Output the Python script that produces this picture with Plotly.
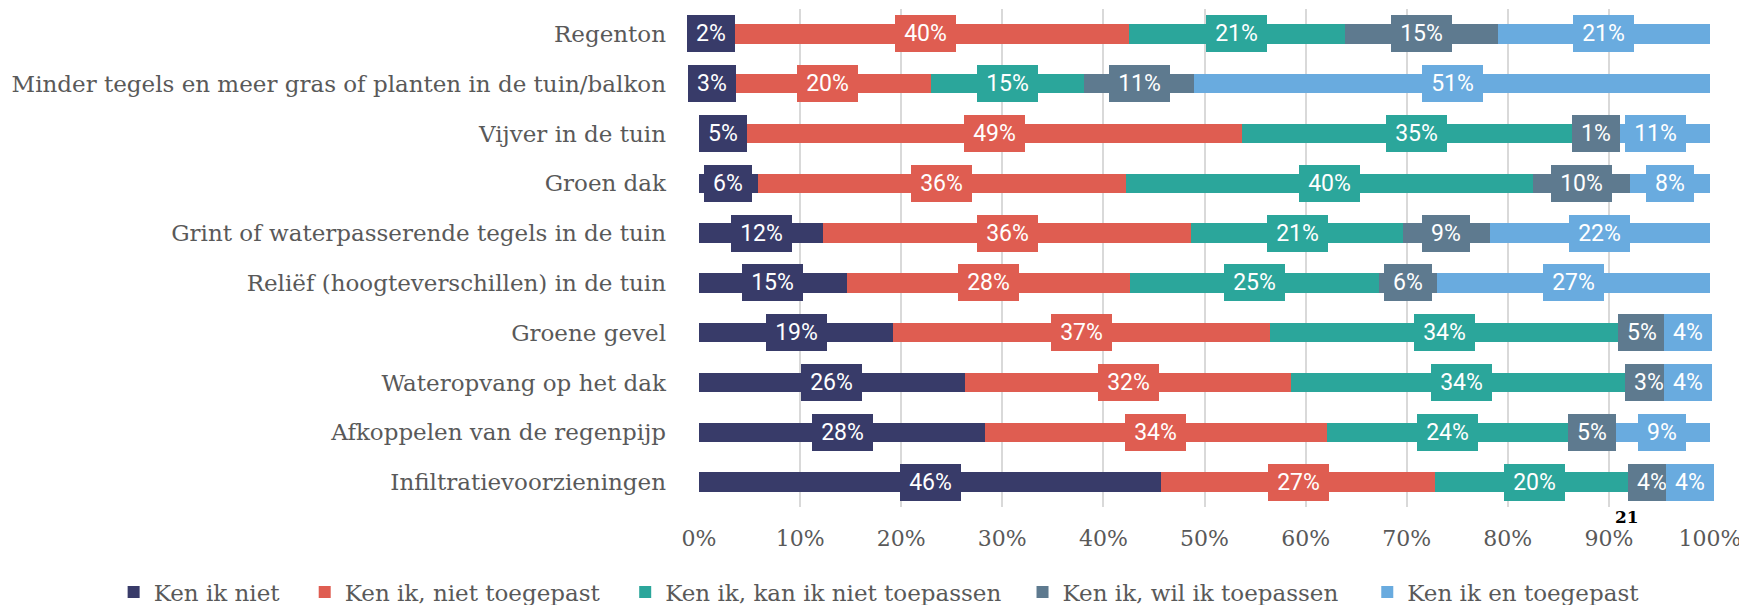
import plotly.graph_objects as go

categories = [
    "Regenton",
    "Minder tegels en meer gras of planten in de tuin/balkon",
    "Vijver in de tuin",
    "Groen dak",
    "Grint of waterpasserende tegels in de tuin",
    "Reliëf (hoogteverschillen) in de tuin",
    "Groene gevel",
    "Wateropvang op het dak",
    "Afkoppelen van de regenpijp",
    "Infiltratievoorzieningen",
]

series_names = [
    "Ken ik niet",
    "Ken ik, niet toegepast",
    "Ken ik, kan ik niet toepassen",
    "Ken ik, wil ik toepassen",
    "Ken ik en toegepast",
]

ken_ik_niet = [2.4, 2.6, 4.7, 5.8, 12.3, 14.6, 19.2, 26.3, 28.3, 45.7]
niet_toegepast = [40.1, 20.3, 49.0, 36.4, 36.4, 28.0, 37.3, 32.3, 33.8, 27.1]
kan_niet_toepassen = [21.4, 15.2, 34.6, 40.3, 20.9, 24.7, 34.4, 33.7, 23.9, 19.6]
wil_toepassen = [15.1, 10.9, 0.9, 9.6, 8.6, 5.7, 4.7, 3.4, 4.6, 3.7]
toegepast = [21.0, 51.0, 10.8, 7.9, 21.8, 27.0, 4.4, 4.3, 9.4, 3.9]

x_ticks = [0, 10, 20, 30, 40, 50, 60, 70, 80, 90, 100]
x_tick_labels = ["0%", "10%", "20%", "30%", "40%", "50%", "60%", "70%", "80%", "90%", "100%"]

colors = ["#383B69", "#DF5D51", "#2BA69B", "#5E7A8F", "#69ABDF"]
series_values = [ken_ik_niet, niet_toegepast, kan_niet_toepassen, wil_toepassen, toegepast]

# horizontal position (paper units) of each legend entry
legend_x = [-0.579, -0.390, -0.073, 0.320, 0.661]

SERIF = "DejaVu Serif, Liberation Serif, serif"
LABEL_FONT = "Roboto, Liberation Sans, sans-serif"
GRAY = "#595959"

fig = go.Figure()
legend_ids = ["legend"] + [f"legend{k}" for k in range(2, len(series_names) + 1)]
for name, vals, col, lid in zip(series_names, series_values, colors, legend_ids):
    fig.add_trace(go.Bar(
        y=categories, x=vals, name=name, orientation="h",
        marker=dict(color=col, line=dict(width=0)),
        hoverinfo="skip", legend=lid,
    ))

# data labels in coloured boxes, centred on each segment
annotations = []
for i, cat in enumerate(categories):
    start = 0.0
    for vals, col in zip(series_values, colors):
        v = vals[i]
        txt = f"{v:.0f}%"
        annotations.append(dict(
            x=start + v / 2, y=cat, xref="x", yref="y",
            text=txt, showarrow=False,
            font=dict(family=LABEL_FONT, size=23, color="white"),
            bgcolor=col, borderpad=0, borderwidth=0,
            width=48 if len(txt) <= 2 else 61, height=37,
            align="center", valign="middle",
        ))
        start += v

annotations.append(dict(
    x=0.918, y=-0.02, xref="paper", yref="paper",
    xanchor="center", yanchor="middle",
    text="<b>21</b>", showarrow=False,
    font=dict(family=SERIF, size=17, color="black"),
))

legend_common = dict(
    orientation="h", xanchor="left", y=-0.171, yanchor="middle",
    bgcolor="rgba(0,0,0,0)",
    font=dict(family=SERIF, size=23, color=GRAY),
    itemwidth=30,
)
layout_legends = {}
for lid, lx in zip(legend_ids, legend_x):
    layout_legends[lid] = dict(legend_common, x=lx)

fig.update_layout(
    barmode="stack",
    bargap=0.61,
    width=1739, height=597,
    margin=dict(l=691, r=37, t=1, b=98, autoexpand=False),
    plot_bgcolor="white", paper_bgcolor="white",
    showlegend=True,
    annotations=annotations,
    xaxis=dict(
        range=[0, 100], tickvals=x_ticks, ticktext=x_tick_labels,
        showgrid=True, gridcolor="#D9D9D9", gridwidth=1.5,
        zeroline=False, showline=False,
        tickfont=dict(family=SERIF, size=22, color=GRAY),
        ticklabelstandoff=16,
        automargin=False,
    ),
    yaxis=dict(
        categoryorder="array", categoryarray=categories[::-1],
        showgrid=False, zeroline=False, showline=False,
        tickfont=dict(family=SERIF, size=23, color=GRAY),
        ticklabelstandoff=32,
        automargin=False,
    ),
    **layout_legends,
)

fig.write_html("out.html")
